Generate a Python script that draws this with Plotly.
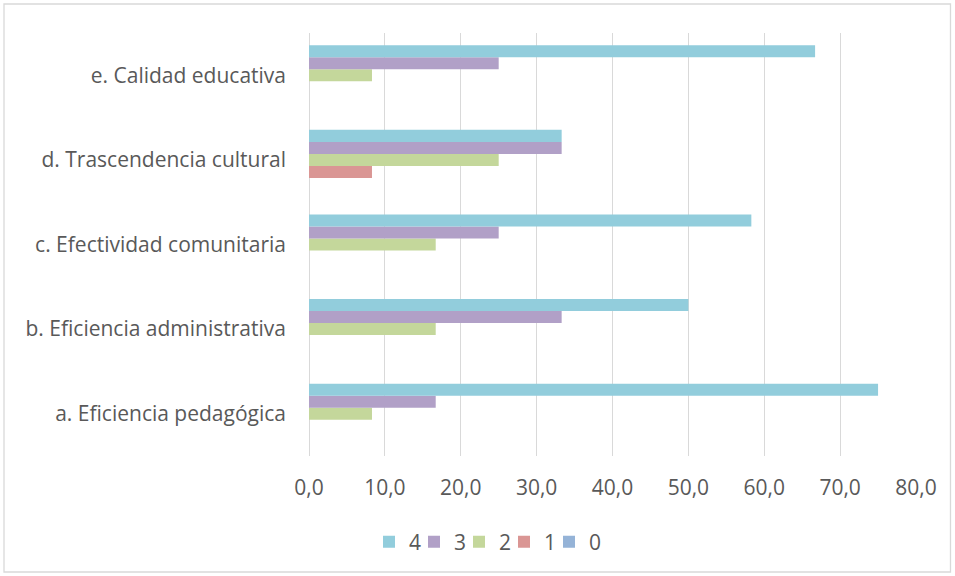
import plotly.graph_objects as go

categories = ["a. Eficiencia pedagógica", "b. Eficiencia administrativa",
              "c. Efectividad comunitaria", "d. Trascendencia cultural",
              "e. Calidad educativa"]
series_names = ["0", "1", "2", "3", "4"]
v0 = [0, 0, 0, 0, 0]
v1 = [0, 0, 0, 8.3, 0]
v2 = [8.3, 16.7, 16.7, 25.0, 8.3]
v3 = [16.7, 33.3, 25.0, 33.3, 25.0]
v4 = [75.0, 50.0, 58.3, 33.3, 66.7]
values = [v0, v1, v2, v3, v4]
colors = ["#95B3D7", "#DA9694", "#C4D79B", "#B1A0C7", "#92CDDC"]

FONT = "Open Sans, sans-serif"

W, H = 955, 576
ml, mr, mt, mb = 309, 39, 33, 120
pw, ph = W - ml - mr, H - mt - mb

def px_x(p):
    return (p - ml) / pw

def px_y(p):
    return (H - mb - p) / ph

# legend entries: one legend per series, laid out left to right (4,3,2,1,0)
legend_ids = ["legend5", "legend4", "legend3", "legend2", "legend"]
legend_left_px = [549, 504, 459, 414, 369]

fig = go.Figure()
for name, vals, c, lid in zip(series_names, values, colors, legend_ids):
    fig.add_trace(go.Bar(y=categories, x=vals, name=name, orientation="h",
                         legend=lid,
                         marker=dict(color=c, line=dict(width=0))))

legends = {}
for lid, lx in zip(legend_ids, legend_left_px):
    legends[lid] = dict(orientation="h", x=px_x(lx), xanchor="left",
                        y=px_y(542), yanchor="middle", font=dict(size=21),
                        itemwidth=30, bgcolor="rgba(0,0,0,0)")

fig.update_layout(
    width=W, height=H,
    margin=dict(l=ml, r=mr, t=mt, b=mb),
    barmode="group", bargap=0.29, bargroupgap=0,
    separators=",.",
    plot_bgcolor="white", paper_bgcolor="white",
    font=dict(family=FONT, size=21, color="#595959"),
    xaxis=dict(range=[0, 80], dtick=10, tickformat=".1f", showgrid=True,
               gridcolor="#D9D9D9", gridwidth=1.3, zeroline=True,
               zerolinecolor="#D9D9D9", zerolinewidth=1.3, showline=False,
               ticks="", ticklabelstandoff=17),
    yaxis=dict(showgrid=False, zeroline=False, showline=False, ticks="",
               ticklabelstandoff=22),
    showlegend=True,
    shapes=[dict(type="rect", xref="paper", yref="paper",
                 x0=px_x(4), x1=px_x(950.5), y0=px_y(4), y1=px_y(572),
                 line=dict(color="#D9D9D9", width=1.3), layer="below")],
    **legends,
)

fig.write_html("out.html")
